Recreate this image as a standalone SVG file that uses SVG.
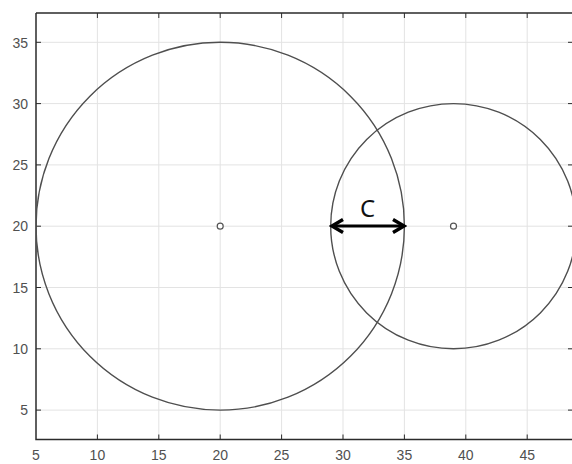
<svg xmlns="http://www.w3.org/2000/svg" width="572" height="464" viewBox="0 0 572 464">
<defs>
<style>
.grid{stroke:#e3e3e3;stroke-width:1;fill:none}
.axis{stroke:#2b2b2b;stroke-width:1.5;fill:none}
.tick{stroke:#2b2b2b;stroke-width:1;fill:none}
.lbl{font-family:"Liberation Sans",Arial,sans-serif;font-size:14px;fill:#505050}
.circ{stroke:#4f4f4f;stroke-width:1.4;fill:none}
.ctr{stroke:#555;stroke-width:1.2;fill:#fff}
.arr{stroke:#000;stroke-width:3.2;fill:none}
.clbl{font-family:"Noto Sans","DejaVu Sans",sans-serif;font-size:24px;fill:#111}
</style>
<marker id="head" markerUnits="userSpaceOnUse" markerWidth="18" markerHeight="18" viewBox="0 0 18 18" refX="15" refY="9" orient="auto-start-reverse">
<path d="M4,2.5 L15,9 L4,15.5" fill="none" stroke="#000" stroke-width="3.4" stroke-linejoin="miter"/>
</marker>
<clipPath id="plot"><rect x="36" y="13" width="537" height="426.5"/></clipPath>
</defs>
<rect width="572" height="464" fill="#fff"/>
<g id="grid">
<path class="grid" d="M97.4,13V439.5M158.8,13V439.5M220.2,13V439.5M281.6,13V439.5M343,13V439.5M404.4,13V439.5M465.8,13V439.5M527.2,13V439.5"/>
<path class="grid" d="M36,410.1H573M36,348.8H573M36,287.5H573M36,226.2H573M36,164.9H573M36,103.6H573M36,42.3H573"/>
</g>
<g id="axes">
<path class="axis" d="M36,13V439.5H573M36,13H573"/>
<path class="tick" d="M97.4,439.5v-5M158.8,439.5v-5M220.2,439.5v-5M281.6,439.5v-5M343,439.5v-5M404.4,439.5v-5M465.8,439.5v-5M527.2,439.5v-5M97.4,13v5M158.8,13v5M220.2,13v5M281.6,13v5M343,13v5M404.4,13v5M465.8,13v5M527.2,13v5"/>
<path class="tick" d="M36,410.1h5M36,348.8h5M36,287.5h5M36,226.2h5M36,164.9h5M36,103.6h5M36,42.3h5M572,410.1h-4M572,348.8h-4M572,287.5h-4M572,226.2h-4M572,164.9h-4M572,103.6h-4M572,42.3h-4"/>
<g class="lbl" text-anchor="end">
<text x="28" y="415.3">5</text>
<text x="28" y="354">10</text>
<text x="28" y="292.7">15</text>
<text x="28" y="231.4">20</text>
<text x="28" y="170.1">25</text>
<text x="28" y="108.8">30</text>
<text x="28" y="47.5">35</text>
</g>
<g class="lbl" text-anchor="middle">
<text x="36" y="460">5</text>
<text x="97.4" y="460">10</text>
<text x="158.8" y="460">15</text>
<text x="220.2" y="460">20</text>
<text x="281.6" y="460">25</text>
<text x="343" y="460">30</text>
<text x="404.4" y="460">35</text>
<text x="465.8" y="460">40</text>
<text x="527.2" y="460">45</text>
</g>
</g>
<g id="circle-large" clip-path="url(#plot)">
<ellipse class="circ" cx="220.2" cy="226.2" rx="184.2" ry="183.9"/>
<circle class="ctr" cx="220.2" cy="226.2" r="3"/>
</g>
<g id="circle-small" clip-path="url(#plot)">
<ellipse class="circ" cx="453.5" cy="226.2" rx="122.8" ry="122.6"/>
<circle class="ctr" cx="453.5" cy="226.2" r="3"/>
</g>
<g id="connectors">
<line class="arr" x1="332" y1="226" x2="404" y2="226" marker-start="url(#head)" marker-end="url(#head)"/>
</g>
<g id="label-c">
<text class="clbl" x="367.5" y="217" text-anchor="middle">C</text>
</g>
</svg>
